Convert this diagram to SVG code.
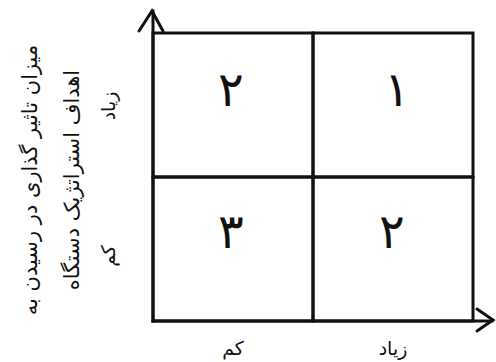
<svg xmlns="http://www.w3.org/2000/svg" width="496" height="362" viewBox="0 0 496 362">
<style>
.ln{stroke:#111;stroke-width:3;fill:none;stroke-linecap:square}
.ar{stroke:#111;stroke-width:3;fill:none;stroke-linejoin:miter;stroke-linecap:round}
.t{font-family:"DejaVu Sans",sans-serif;fill:#111;text-anchor:middle}
.d{font-size:48px}
.lab{font-size:21px}
.ax{font-size:19px}
</style>
<rect width="496" height="362" fill="#fff"/>
<g id="cell-top-left">
<rect x="153" y="33" width="160" height="144" class="ln"/>
<text class="t d" x="231" y="106">۲</text>
</g>
<g id="cell-top-right">
<rect x="313" y="33" width="160" height="144" class="ln"/>
<text class="t d" x="397" y="106">۱</text>
</g>
<g id="cell-bottom-left">
<rect x="153" y="177" width="160" height="144" class="ln"/>
<text class="t d" x="231" y="248">۳</text>
</g>
<g id="cell-bottom-right">
<rect x="313" y="177" width="160" height="144" class="ln"/>
<text class="t d" x="392" y="248">۲</text>
</g>
<g id="connectors">
<line x1="153" y1="321" x2="153" y2="11" class="ln"/>
<polyline points="139,31 152,11 163,31" class="ar"/>
<line x1="153" y1="321" x2="492" y2="321" class="ln"/>
<polyline points="477,309 493,320 477,331" class="ar"/>
</g>
<g id="x-labels">
<text class="t ax" x="233" y="355">کم</text>
<text class="t ax" x="393" y="355">زیاد</text>
</g>
<g id="y-labels">
<text class="t ax" transform="translate(115,106) rotate(-90)">زیاد</text>
<text class="t ax" transform="translate(115,256) rotate(-90)">کم</text>
</g>
<g id="y-title">
<text class="t lab" transform="translate(37,180) rotate(-90)">میزان تاثیر گذاری در رسیدن به</text>
<text class="t lab" transform="translate(79,180) rotate(-90)">اهداف استراتژیک دستگاه</text>
</g>
</svg>
